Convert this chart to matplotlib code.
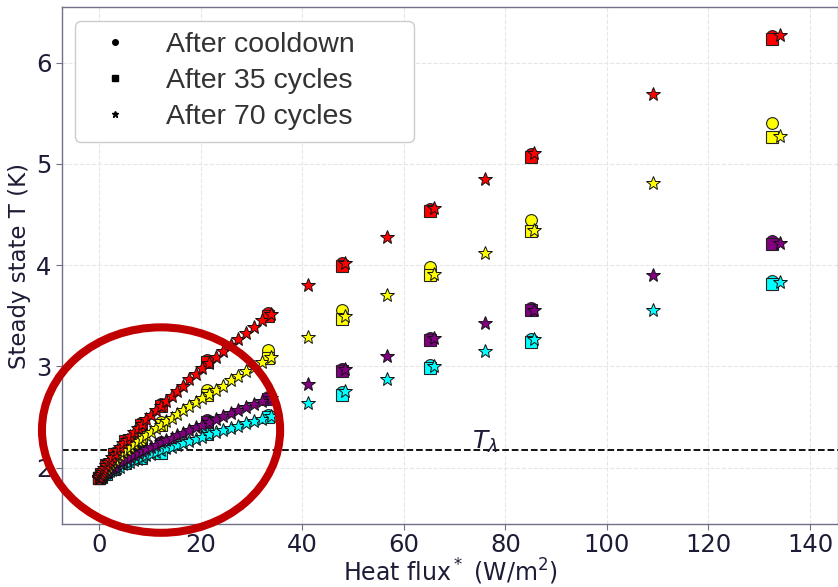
import numpy as np
import matplotlib
matplotlib.use('Agg')
import matplotlib.pyplot as plt
from matplotlib.patches import Ellipse
from matplotlib.lines import Line2D

# heat flux for the cooldown / 35 cycle runs
x_sq = [0, 0.3, 1.3, 3.0, 5.2, 8.2, 12.1, 21.3, 33.3, 47.9, 65.2, 85.0, 132.6]
# heat flux for the 70 cycle run (fine sweep below 34 W/m2, then sparse)
x_st = [0, 0.02, 0.08, 0.19, 0.34, 0.53, 0.76, 1.04, 1.35, 1.71, 2.11, 2.56, 3.04,
        3.57, 4.14, 4.75, 5.41, 6.11, 6.84, 7.63, 8.45, 9.32, 10.22, 11.18, 12.17,
        13.20, 14.28, 15.40, 16.56, 17.77, 19.01, 20.30, 21.63, 23.00, 24.42, 25.88,
        27.38, 28.92, 30.50, 32.13, 33.80,
        41.1, 48.4, 56.7, 66.0, 76.0, 85.6, 109.0, 134.0]

# after cooldown (circles)
red_c = [1.90, 1.94, 2.03, 2.14, 2.27, 2.44, 2.63, 3.06, 3.53, 4.02, 4.55, 5.10, 6.26]
yel_c = [1.90, 1.93, 2.00, 2.09, 2.18, 2.31, 2.45, 2.77, 3.16, 3.56, 3.98, 4.45, 5.40]
pur_c = [1.90, 1.92, 1.96, 2.02, 2.09, 2.16, 2.25, 2.47, 2.70, 2.97, 3.28, 3.58, 4.24]
cya_c = [1.90, 1.91, 1.95, 2.00, 2.05, 2.10, 2.16, 2.35, 2.52, 2.75, 3.01, 3.27, 3.84]

# after 35 cycles (squares)
red_s = [1.90, 1.94, 2.02, 2.13, 2.26, 2.42, 2.61, 3.04, 3.50, 3.99, 4.53, 5.07, 6.23]
yel_s = [1.90, 1.93, 1.99, 2.07, 2.16, 2.28, 2.42, 2.72, 3.08, 3.47, 3.90, 4.34, 5.27]
pur_s = [1.90, 1.92, 1.96, 2.01, 2.08, 2.15, 2.23, 2.45, 2.68, 2.95, 3.26, 3.56, 4.21]
cya_s = [1.90, 1.91, 1.94, 1.99, 2.04, 2.09, 2.14, 2.33, 2.50, 2.72, 2.98, 3.24, 3.81]

# after 70 cycles (stars)
red_st = [1.90, 1.90, 1.91, 1.93, 1.94, 1.96, 1.98, 2.00, 2.02, 2.05, 2.07, 2.10, 2.13,
          2.17, 2.20, 2.24, 2.27, 2.31, 2.35, 2.39, 2.43, 2.48, 2.52, 2.57, 2.61,
          2.66, 2.71, 2.76, 2.81, 2.87, 2.92, 2.98, 3.03, 3.09, 3.15, 3.21,
          3.27, 3.33, 3.39, 3.46, 3.52,
          3.80, 4.02, 4.28, 4.56, 4.85, 5.11, 5.69, 6.27]
yel_st = [1.90, 1.90, 1.91, 1.92, 1.93, 1.94, 1.96, 1.97, 1.99, 2.01, 2.03, 2.05, 2.07,
          2.10, 2.12, 2.15, 2.17, 2.20, 2.23, 2.26, 2.29, 2.32, 2.35, 2.39, 2.42,
          2.46, 2.49, 2.53, 2.57, 2.61, 2.65, 2.69, 2.73, 2.77, 2.81, 2.86,
          2.90, 2.95, 2.99, 3.04, 3.09,
          3.29, 3.50, 3.70, 3.91, 4.12, 4.35, 4.81, 5.28]
pur_st = [1.90, 1.90, 1.91, 1.91, 1.92, 1.93, 1.94, 1.95, 1.96, 1.97, 1.99, 2.00, 2.01,
          2.03, 2.05, 2.06, 2.08, 2.10, 2.12, 2.14, 2.16, 2.18, 2.20, 2.22, 2.25,
          2.27, 2.29, 2.32, 2.34, 2.37, 2.40, 2.42, 2.45, 2.48, 2.51, 2.54,
          2.57, 2.60, 2.63, 2.66, 2.69,
          2.83, 2.97, 3.10, 3.28, 3.43, 3.56, 3.90, 4.22]
cya_st = [1.90, 1.90, 1.90, 1.91, 1.92, 1.92, 1.93, 1.94, 1.95, 1.96, 1.97, 1.98, 1.99,
          2.00, 2.01, 2.03, 2.04, 2.05, 2.07, 2.08, 2.10, 2.12, 2.13, 2.15, 2.17,
          2.19, 2.20, 2.22, 2.24, 2.26, 2.28, 2.30, 2.33, 2.35, 2.37, 2.39,
          2.41, 2.44, 2.46, 2.48, 2.51,
          2.64, 2.76, 2.87, 3.00, 3.15, 3.27, 3.56, 3.83]

colors = ['cyan', 'purple', 'yellow', 'red']
circ = [cya_c, pur_c, yel_c, red_c]
squa = [cya_s, pur_s, yel_s, red_s]
star = [cya_st, pur_st, yel_st, red_st]
labels = ['After cooldown', 'After 35 cycles', 'After 70 cycles']
T_lambda = 2.17

dark = '#1c1c36'
fig = plt.figure(figsize=(8.38, 5.87), dpi=100)
ax = fig.add_axes([0.074, 0.107, 0.926, 0.881])

for c, y in zip(colors, circ):
  ax.plot(x_sq, y, 'o', ms=8.5, mfc=c, mec='#222222', mew=0.8, ls='none', zorder=3)
for c, y in zip(colors, squa):
  ax.plot(x_sq, y, 's', ms=8.5, mfc=c, mec='#222222', mew=0.8, ls='none', zorder=4)
for c, y in zip(colors, star):
  ax.plot(x_st, y, '*', ms=10, mfc=c, mec='#111111', mew=0.7, ls='none', zorder=5)

ax.axhline(T_lambda, color='k', ls='--', lw=1.3, zorder=2)
ax.text(73.5, 2.25, r'$T_\lambda$', fontsize=18, color=dark, ha='left', va='center')

ax.set_xlim(-7.3, 145.5)
ax.set_ylim(1.44, 6.55)
ax.set_xticks([0, 20, 40, 60, 80, 100, 120, 140])
ax.set_yticks([2, 3, 4, 5, 6])
ax.grid(True, ls='--', color='#e6e6e6', lw=0.8, zorder=0)
ax.set_axisbelow(True)
for s in ax.spines.values():
  s.set_color('#707088')
  s.set_linewidth(1.0)
ax.tick_params(axis='both', labelsize=17.5, colors=dark, length=4)
ax.tick_params(axis='both', color='#707088')
ax.tick_params(axis='x', pad=2)
ax.set_xlabel(r'Heat flux$^*$ (W/m$^2$)', fontsize=17, color=dark, labelpad=0)
ax.set_ylabel('Steady state T (K)', fontsize=16.5, color=dark, labelpad=4)

handles = [Line2D([], [], marker=m, color='k', ls='none', ms=s)
           for m, s in zip(['o', 's', '*'], [4, 4, 5])]
leg = ax.legend(handles, [l + '      ' for l in labels], loc='upper left',
                bbox_to_anchor=(0.017, 0.973), borderaxespad=0, labelspacing=0.35,
                prop={'family': 'Liberation Sans', 'size': 20.5}, frameon=True,
                fancybox=True, edgecolor='#cccccc', framealpha=1.0)
for t in leg.get_texts():
  t.set_color('#333333')

ell = Ellipse((12.2, 2.37), 46.9, 2.03, fill=False, edgecolor='#c00000', lw=5.8,
              clip_on=False, zorder=10)
ax.add_patch(ell)

fig.savefig('out.png', dpi=100)
